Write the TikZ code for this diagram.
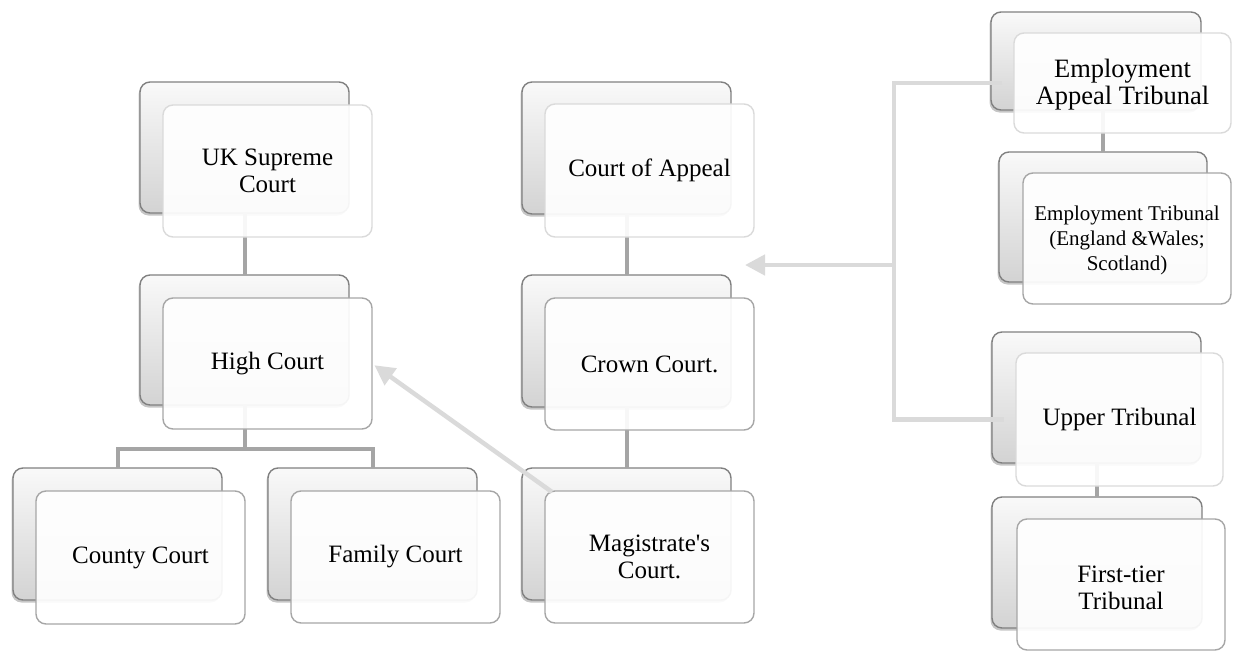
\documentclass[tikz,border=0pt]{standalone}
\usepackage{fontspec}
\setmainfont{Liberation Serif}
\usetikzlibrary{fit,shadows,arrows.meta,calc}
\definecolor{bbord}{HTML}{808080}
\definecolor{bgtop}{HTML}{F9F9F9}
\definecolor{bgbot}{HTML}{D3D3D3}
\definecolor{fbord}{HTML}{A6A6A6}
\definecolor{fbordlite}{HTML}{DADADA}
\definecolor{linkgray}{HTML}{A5A5A5}
\definecolor{relaygray}{HTML}{DADADA}
\tikzset{
 backbox/.style={draw=bbord, line width=1.4pt, rounded corners=10pt, top color=bgtop, bottom color=bgbot,
   drop shadow={shadow xshift=-1.5pt, shadow yshift=-2.5pt, opacity=0.45}, inner sep=0pt, outer sep=0pt},
 frontbox/.style={draw=fbord, line width=1.4pt, rounded corners=10pt, fill=white, fill opacity=0.92, inner sep=0pt, outer sep=0pt},
 frontlite/.style={frontbox, draw=fbordlite},
 txt/.style={align=center, font=\fontsize{25}{27}\selectfont, text=black, inner sep=0pt},
 bigtxt/.style={txt, font=\fontsize{26.5}{27}\selectfont},
 smalltxt/.style={txt, font=\fontsize{21}{25}\selectfont},
 link/.style={draw=linkgray, line width=4pt},
 relay/.style={draw=relaygray, line width=4.5pt},
 relayarrow/.style={relay, -{Triangle[length=20pt,width=20pt]}},
}
\begin{document}
\begin{tikzpicture}[x=1pt,y=-1pt]
\useasboundingbox (0,0) rectangle (1235,651);
% back boxes
\node[backbox, fit={(140,82) (349,213)}] (ukB) {};
\node[backbox, fit={(140,275) (349,405)}] (hcB) {};
\node[backbox, fit={(13,468) (222,600)}] (ccB) {};
\node[backbox, fit={(268,468) (477,600)}] (fcB) {};
\node[backbox, fit={(522,82) (731,214)}] (coaB) {};
\node[backbox, fit={(522,275) (731,407)}] (crB) {};
\node[backbox, fit={(522,468) (731,600)}] (mgB) {};
\node[backbox, fit={(991,12) (1201,110)}] (eatB) {};
\node[backbox, fit={(999,152) (1207,282)}] (etB) {};
\node[backbox, fit={(992,332) (1201,463)}] (utB) {};
\node[backbox, fit={(992,497) (1202,628)}] (ftB) {};
% hierarchy connectors
\coordinate (hcJ) at ($(hcB.south)+(0,44)$);
\draw[link] (ukB.south) -- (hcB.north);
\draw[link] (hcB.south) -- (hcJ) -| (ccB.north);
\draw[link] (hcJ) -| (fcB.north);
\draw[link] (coaB.south) -- (crB.north);
\draw[link] (crB.south) -- (mgB.north);
\draw[link] (etB.north) -- (etB.north |- eatB.south);
\draw[link] (ftB.north) -- (ftB.north |- utB.south);
% front boxes (geometry only)
\node[frontlite, fit={(163,105) (372,237)}] (ukF) {};
\node[frontbox, fit={(163,298) (372,429)}] (hcF) {};
\node[frontbox, fit={(36,491) (245,624)}] (ccF) {};
\node[frontbox, fit={(291,491) (500,623)}] (fcF) {};
\node[frontlite, fit={(545,104) (754,237)}] (coaF) {};
\node[frontbox, fit={(545,298) (754,430)}] (crF) {};
\node[frontbox, fit={(545,491) (754,623)}] (mgF) {};
\node[frontlite, fit={(1014,33) (1231,133)}] (eatF) {};
\node[frontbox, fit={(1023,173) (1231,304)}] (etF) {};
\node[frontlite, fit={(1016,353) (1223,486)}] (utF) {};
\node[frontbox, fit={(1017,519) (1225,650)}] (ftF) {};
% relay bracket (tribunals -> courts)
\coordinate (brX) at (894,0);
\coordinate (brM) at (894,265);
\coordinate (brTip) at (745,265);
\draw[relay, line join=miter] ($(eatF.west)+(-12,0)$) -- (eatF.west -| brX) -- (utF.west -| brX) -- ($(utF.west)+(-12,0)$);
\draw[relayarrow] (brM) -- (brTip);
% texts
\node[txt] (ukT) at (ukF.center) {UK Supreme\\Court};
\node[txt] (hcT) at (hcF.center) {High Court};
\node[txt] (ccT) at (ccF.center) {County Court};
\node[txt] (fcT) at (fcF.center) {Family Court};
\node[txt] (coaT) at (coaF.center) {Court of Appeal};
\node[txt] (crT) at (crF.center) {Crown Court.};
\node[txt] (mgT) at (mgF.center) {Magistrate\textquotesingle s\\Court.};
\node[bigtxt] (eatT) at ($(eatF.center)+(0,2)$) {Employment\\Appeal Tribunal};
\node[smalltxt] (etT) at ($(etF.center)+(0,2)$) {Employment Tribunal\\(England \&Wales;\\Scotland)};
\node[txt] (utT) at (utF.center) {Upper Tribunal};
\node[txt] (ftT) at ($(ftF.center)+(0,3)$) {First-tier\\Tribunal};
% magistrates -> high court
\draw[relayarrow, shorten >=3pt] ($(mgF.north west)+(7,1)$) -- (hcF.east);
\end{tikzpicture}
\end{document}
